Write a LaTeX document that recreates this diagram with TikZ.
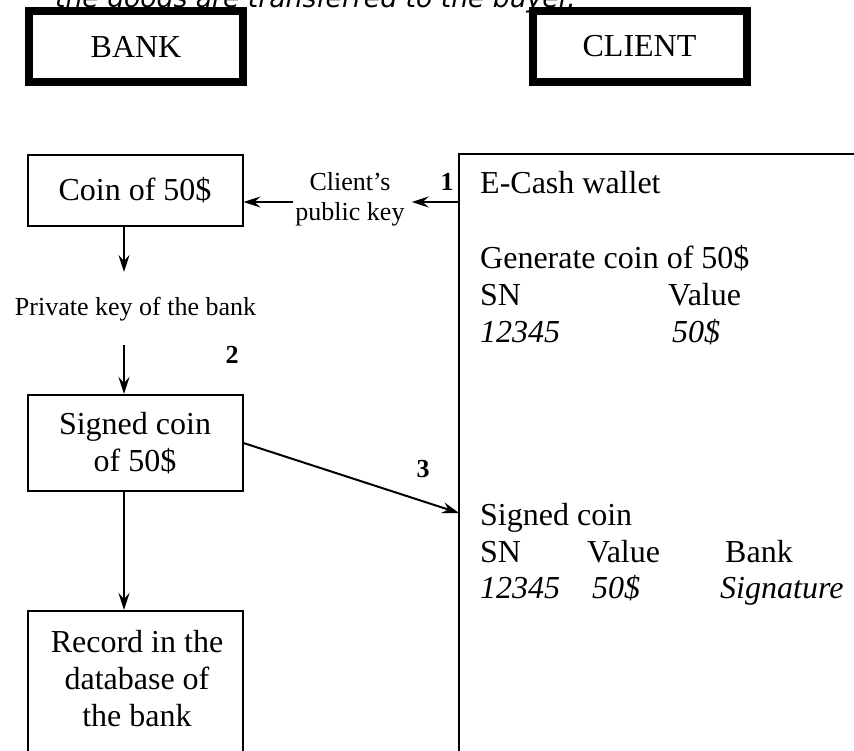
\documentclass[tikz,border=0pt]{standalone}
\usepackage{fontspec}
\setmainfont{Liberation Serif}
\newfontfamily\topfont{DejaVu Sans}
\usetikzlibrary{arrows.meta}
\begin{document}
\begin{tikzpicture}[x=1pt,y=-1pt,
  box/.style={draw, line width=2pt, minimum width=215pt, inner sep=0pt},
  thickbox/.style={draw, line width=8pt, minimum width=214pt, minimum height=71pt, inner sep=0pt},
  big/.style={font=\fontsize{32}{37}\selectfont},
  small/.style={font=\fontsize{26}{30}\selectfont},
  num/.style={font=\fontsize{26}{30}\selectfont\bfseries, inner sep=0pt, anchor=base},
  txt/.style={big, inner sep=0pt, anchor=base west},
  arr/.style={line width=2pt, -{Stealth[length=17pt,width=11pt,inset=6pt]}},
]
\useasboundingbox (0,0) rectangle (854,750);

% cut-off line of text at the top
\node[anchor=base west, inner sep=0pt, font=\topfont\itshape\fontsize{26.6}{30}\selectfont] (toptext) at (55,7) {the goods are transferred to the buyer.};

% headers
\node[thickbox, big] (bank) at (136,46.5) {BANK};
\node[thickbox, big] (client) at (639.5,46.5) {CLIENT};

% bank side
\node[box, big, minimum height=71pt] (coin) at (135,190.5) {Coin of 50\$};
\node[box, big, minimum height=96pt, align=center] (signed) at (135,443) {Signed coin\\of 50\$};
\node[box, minimum height=190pt, anchor=north] (record) at (135,610) {};
\node[big, align=center, anchor=north, inner sep=0pt] (rectext) at (137,630) {Record in the\\database of\\the bank};

\node[small, anchor=base, inner sep=0pt] (priv) at (135.5,315) {Private key of the bank};
\coordinate (p1) at (124,272);
\coordinate (p2) at (124,345);
\draw[arr] (coin.south -| p1) -- (p1);
\draw[arr] (p2) -- (signed.north -| p2);
\draw[arr] (signed.south -| p2) -- (record.north -| p2);

% client wallet region
\coordinate (wc) at (459,154);
\draw[line width=2pt] (870,154) -- (wc) -- (459,770);
\coordinate (w1) at (459,202);
\coordinate (w3) at (459,513);

\node[small, align=center, inner sep=0pt] (pub) at (350,199) {Client’s\\public key};
\draw[arr] (w1) -- ([xshift=7pt]pub.east |- w1);
\draw[arr] ([xshift=-2pt]pub.west |- w1) -- (coin.east |- w1);
\draw[arr] (signed.east) -- (w3);

\node[num] (n1) at (447,190) {1};
\node[num] (n2) at (232,363) {2};
\node[num] (n3) at (423,477) {3};

% wallet contents
\node[txt] (wt1) at (480,193) {E-Cash wallet};
\node[txt] (wt2) at (480,268) {Generate coin of 50\$};
\node[txt] (wt3) at (480,305) {SN};
\node[txt] (wt4) at (668,305) {Value};
\node[txt, font=\fontsize{32}{37}\selectfont\itshape] (wt5) at (480,342) {12345};
\node[txt, font=\fontsize{32}{37}\selectfont\itshape] (wt6) at (672,342) {50\$};

\node[txt] (sc1) at (480,525) {Signed coin};
\node[txt] (sc2) at (480,562) {SN};
\node[txt] (sc3) at (587,562) {Value};
\node[txt] (sc4) at (725,562) {Bank};
\node[txt, font=\fontsize{32}{37}\selectfont\itshape] (sc5) at (480,598) {12345};
\node[txt, font=\fontsize{32}{37}\selectfont\itshape] (sc6) at (592,598) {50\$};
\node[txt, font=\fontsize{32}{37}\selectfont\itshape] (sc7) at (720,598) {Signature};
\end{tikzpicture}
\end{document}
